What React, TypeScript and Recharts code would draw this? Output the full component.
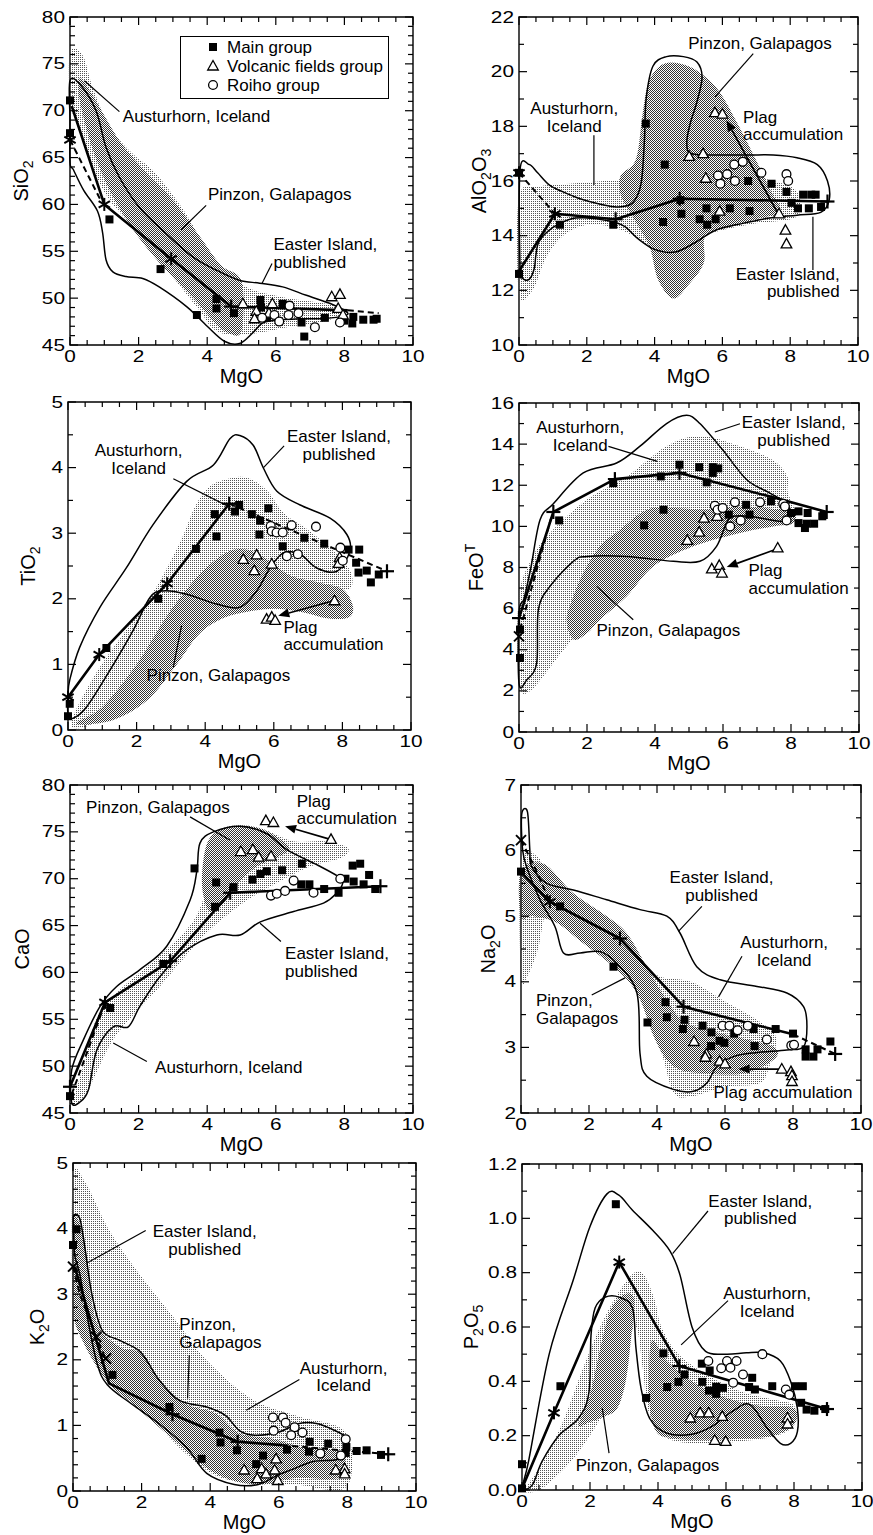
import React from 'react';
import { ScatterChart, Scatter, XAxis, YAxis, ReferenceArea, Legend } from 'recharts';

type P = [number, number];
type Note = { x: number; y: number; lines: string[]; anchor?: 'start' | 'middle' | 'end' };

const FONT = '"Liberation Sans", Arial, Helvetica, sans-serif';

// MgO axis labels shared by all eight panels
const mgoLabels = [0, 2, 4, 6, 8, 10];

// ---------------- SiO2 ----------------
const sio2Main: P[] = [[0, 71.1], [0, 67.6], [1.15, 58.4], [2.64, 53.1], [3.7, 48.2], [4.27, 49.9], [4.27, 48.9], [4.78, 48.4], [5.55, 49.8], [5.57, 49.0], [5.75, 47.9], [6.2, 49.4], [6.75, 47.4], [6.83, 45.9], [7.43, 47.9], [7.99, 47.6], [8.23, 47.3], [8.26, 48.0], [8.55, 47.7], [8.85, 47.7], [8.94, 47.8]];
const sio2Volc: P[] = [[5.04, 49.4], [5.43, 48.6], [5.38, 47.8], [5.8, 48.4], [5.9, 49.4], [7.63, 50.15], [7.87, 50.4], [7.82, 48.9], [7.96, 48.2]];
const sio2Roiho: P[] = [[5.6, 47.9], [5.96, 48.2], [6.1, 47.5], [6.37, 48.2], [6.4, 49.2], [6.66, 48.4], [7.14, 46.9], [7.87, 47.4]];
const sio2Solid: P[] = [[0.05, 70.5], [1.0, 60.0], [2.95, 54.2], [4.7, 49.1], [8.1, 48.7]];
const sio2Dashed: P[][] = [[[0, 66.9], [0.9, 60.4]], [[8.1, 48.7], [9.0, 48.4]]];
const sio2Stars: P[] = [[0, 66.9], [1.0, 60.0], [2.95, 54.2]];
const sio2Plus: P[] = [[4.7, 49.1]];
const sio2Easter: P[] = [[0, 73.2], [0.32, 72.7], [0.76, 70.0], [1.05, 66.1], [1.44, 62.9], [2.02, 59.7], [2.8, 56.9], [3.58, 54.4], [4.26, 53.0], [4.94, 51.9], [5.53, 51.6], [6.2, 51.2], [6.89, 50.3], [7.67, 49.3], [8.1, 48.4], [7.86, 48.0], [7.28, 47.8], [6.7, 47.8], [5.9, 47.6], [5.6, 47.3], [5.3, 46.2], [4.94, 45.15], [4.5, 45.4], [4.0, 47.0], [3.4, 49.1], [2.6, 51.2], [2.12, 52.1], [1.63, 52.3], [1.25, 52.8], [1.05, 54.1], [0.95, 57.0], [0.8, 59.3], [0.4, 61.5], [0.1, 63.7], [0, 64.5], [0, 69]];
const sio2Aust: P[] = [[0, 76.2], [0.37, 75.9], [0.66, 72.5], [1.15, 68.3], [1.83, 65.4], [2.5, 63.3], [3.38, 59.0], [4.16, 54.1], [5.14, 51.2], [6.2, 50.1], [7.47, 49.4], [8.05, 48.6], [7.5, 47.6], [6.5, 47.0], [5.33, 46.2], [4.65, 46.1], [4.16, 46.8], [3.77, 48.7], [2.99, 52.3], [2.02, 56.9], [1.15, 60.5], [0.56, 64.7], [0.13, 69.3], [0, 70.5]];
const sio2Pinz: P[] = [[0.3, 73.5], [0.6, 72.0], [1.0, 69.5], [1.5, 66.5], [2.2, 63.5], [3.0, 60.5], [3.8, 56.5], [4.4, 53.5], [5.0, 51.8], [5.0, 46.5], [4.6, 46.3], [4.2, 47.5], [3.6, 50.0], [2.8, 53.0], [2.0, 56.5], [1.3, 60.5], [0.8, 64.5], [0.45, 68.5], [0.25, 72.0]];
const sio2Leaders: P[] = [[1.44, 69.9], [0.42, 73.2], [3.97, 59.9], [3.24, 57.3], [5.89, 53.7], [5.6, 51.6]];
const sio2Notes: Note[] = [
  { x: 1.54, y: 68.8, lines: ['Austurhorn, Iceland'] },
  { x: 4.02, y: 60.45, lines: ['Pinzon, Galapagos'] },
  { x: 5.93, y: 55.1, lines: ['Easter Island,', 'published'] },
];

// ---------------- AlO2O3 ----------------
const al2Main: P[] = [[0, 12.6], [0, 16.3], [1.21, 14.4], [2.78, 14.4], [3.74, 18.1], [4.3, 16.6], [4.25, 14.5], [4.76, 15.3], [4.79, 14.8], [5.33, 14.6], [5.53, 15.0], [5.55, 14.4], [5.8, 14.6], [6.22, 15.0], [6.76, 16.0], [6.8, 14.9], [7.45, 15.9], [7.89, 15.6], [8.04, 15.2], [8.23, 15.0], [8.38, 15.5], [8.55, 15.0], [8.62, 15.5], [8.75, 15.5], [8.91, 15.05]];
const al2Volc: P[] = [[5.78, 18.5], [6.0, 18.45], [5.02, 16.9], [5.43, 17.0], [5.51, 16.1], [5.92, 14.9], [7.67, 14.8], [7.86, 14.2], [7.89, 13.7]];
const al2Roiho: P[] = [[5.87, 16.2], [5.94, 15.9], [6.14, 16.25], [6.35, 16.6], [6.6, 16.7], [6.37, 16.0], [7.15, 16.3], [7.89, 16.25], [7.94, 16.0]];
const al2Solid: P[] = [[0, 12.7], [1.06, 14.8], [2.85, 14.6], [4.74, 15.35], [9.1, 15.25]];
const al2Dashed: P[][] = [[[0, 16.3], [1.06, 14.8]]];
const al2Stars: P[] = [[0, 16.3], [1.06, 14.8]];
const al2Plus: P[] = [[2.85, 14.6], [4.74, 15.35], [9.1, 15.25]];
const al2Easter: P[] = [[0.03, 16.4], [0.3, 16.6], [0.55, 16.3], [0.9, 15.85], [1.3, 15.6], [1.8, 15.35], [2.4, 15.15], [2.9, 15.05], [3.35, 15.2], [3.6, 15.9], [3.7, 17.5], [3.75, 19.0], [3.95, 20.2], [4.35, 20.55], [4.85, 20.55], [5.25, 20.35], [5.4, 19.8], [5.25, 18.9], [5.05, 18.1], [4.95, 17.4], [5.1, 17.0], [6.0, 16.95], [6.8, 16.95], [7.5, 16.95], [8.2, 16.85], [8.8, 16.6], [9.1, 16.0], [9.15, 15.3], [8.9, 14.85], [8.2, 14.75], [7.4, 14.65], [6.6, 14.45], [5.8, 14.2], [5.2, 13.75], [4.6, 13.4], [4.0, 13.5], [3.5, 13.9], [3.1, 14.35], [2.6, 14.55], [2.0, 14.65], [1.5, 14.6], [1.0, 14.3], [0.6, 13.8], [0.5, 13.3], [0.45, 12.8], [0.3, 12.4], [0.1, 12.45], [0.03, 12.9]];
const al2Aust: P[] = [[0, 15.4], [0.6, 15.8], [1.5, 15.9], [2.5, 16.0], [3.5, 16.1], [4.5, 16.25], [5.5, 16.3], [6.5, 16.2], [7.5, 16.0], [8.2, 15.6], [8.2, 14.7], [7.0, 14.45], [6.0, 14.2], [5.4, 13.9], [5.3, 12.9], [4.8, 12.6], [4.2, 13.2], [3.5, 13.9], [2.8, 14.3], [2.0, 14.4], [1.3, 14.0], [0.8, 13.2], [0.4, 12.0], [0, 11.9]];
const al2Pinz: P[] = [[3.0, 16.2], [3.45, 16.8], [3.65, 18.5], [3.85, 19.7], [4.3, 20.3], [5.0, 20.2], [5.6, 19.7], [6.0, 19.1], [6.4, 18.2], [6.9, 17.0], [7.4, 15.7], [7.7, 14.9], [7.0, 14.6], [6.2, 14.3], [5.5, 14.0], [5.45, 13.0], [5.0, 12.2], [4.55, 11.7], [4.1, 12.4], [3.85, 13.6], [3.4, 14.6], [3.0, 15.5]];
const al2Arrow: P[] = [[7.64, 14.81], [6.12, 18.22]];
const al2Leaders: P[] = [[6.91, 20.66], [5.78, 19.08], [2.21, 17.67], [2.21, 15.85], [8.67, 12.74], [8.67, 14.69]];
const al2Notes: Note[] = [
  { x: 4.99, y: 20.84, lines: ['Pinzon, Galapagos'] },
  { x: 1.63, y: 18.45, lines: ['Austurhorn,', 'Iceland'], anchor: 'middle' },
  { x: 6.61, y: 18.13, lines: ['Plag', 'accumulation'] },
  { x: 9.46, y: 12.38, lines: ['Easter Island,', 'published'], anchor: 'end' },
];

// ---------------- TiO2 ----------------
const tiMain: P[] = [[0, 0.21], [0.05, 0.4], [1.12, 1.25], [2.63, 2.0], [3.73, 2.76], [4.28, 3.29], [4.33, 2.95], [4.87, 3.33], [4.99, 3.43], [5.36, 3.29], [5.6, 3.19], [5.58, 2.98], [5.84, 3.38], [6.26, 2.8], [6.89, 2.93], [7.47, 2.84], [8.18, 2.75], [8.49, 2.75], [8.4, 2.55], [8.47, 2.4], [8.71, 2.43], [8.83, 2.25], [9.06, 2.37]];
const tiVolc: P[] = [[5.11, 2.6], [5.5, 2.67], [5.43, 2.43], [5.94, 2.53], [7.92, 2.63], [7.89, 2.54], [7.77, 1.97], [5.79, 1.69], [5.94, 1.72], [6.04, 1.67]];
const tiRoiho: P[] = [[5.91, 3.11], [5.94, 3.03], [6.08, 3.01], [6.26, 3.01], [6.52, 3.12], [7.23, 3.1], [6.38, 2.65], [6.7, 2.68], [7.94, 2.78], [8.01, 2.58]];
const tiSolid: P[] = [[0, 0.5], [0.91, 1.15], [2.89, 2.23], [4.7, 3.45]];
const tiDashed: P[][] = [[[4.7, 3.45], [9.3, 2.42]]];
const tiStars: P[] = [[0, 0.5], [0.91, 1.15], [2.89, 2.23]];
const tiPlus: P[] = [[4.7, 3.45], [9.3, 2.42]];
const tiEaster: P[] = [[0, 0.53], [0.05, 0.76], [0.34, 1.26], [0.93, 1.87], [1.7, 2.47], [2.48, 3.13], [3.46, 3.79], [4.24, 4.04], [4.72, 4.44], [5.01, 4.49], [5.4, 4.34], [5.7, 3.99], [6.09, 3.64], [6.77, 3.43], [7.64, 3.23], [8.13, 2.98], [8.22, 2.73], [7.84, 2.42], [7.25, 2.47], [6.77, 2.68], [6.28, 2.7], [5.89, 2.47], [5.5, 2.12], [5.01, 1.87], [4.33, 1.92], [3.46, 2.07], [2.78, 2.12], [2.39, 2.02], [1.9, 1.52], [1.22, 0.91], [0.54, 0.35], [0.15, 0.18], [0, 0.25]];
const tiAust: P[] = [[0.1, 0.12], [0.8, 0.85], [1.8, 1.6], [2.6, 2.2], [3.3, 2.9], [3.7, 3.4], [4.1, 3.7], [4.6, 3.82], [5.2, 3.85], [5.8, 3.65], [6.3, 3.3], [7.0, 3.05], [7.8, 2.7], [8.25, 2.4], [8.2, 2.15], [7.5, 2.2], [6.5, 2.15], [5.5, 2.05], [4.5, 1.85], [3.6, 1.55], [2.8, 1.1], [2.0, 0.6], [1.2, 0.25], [0.5, 0.05]];
const tiPinz: P[] = [[0.25, 0.1], [1.0, 0.35], [2.0, 1.0], [2.9, 1.75], [3.8, 2.35], [4.6, 2.7], [5.2, 2.75], [5.8, 2.6], [6.5, 2.35], [7.3, 2.25], [8.0, 2.15], [8.3, 1.9], [8.2, 1.72], [7.6, 1.7], [6.8, 1.8], [6.0, 1.85], [5.2, 1.8], [4.5, 1.7], [3.8, 1.45], [3.1, 0.95], [2.3, 0.45], [1.3, 0.15]];
const tiArrow: P[] = [[7.74, 1.97], [6.13, 1.74]];
const tiLeaders: P[] = [[6.3, 4.33], [5.7, 4.0], [3.07, 3.83], [4.63, 3.42], [3.07, 0.96], [3.31, 1.59]];
const tiNotes: Note[] = [
  { x: 7.9, y: 4.39, lines: ['Easter Island,', 'published'], anchor: 'middle' },
  { x: 2.06, y: 4.17, lines: ['Austurhorn,', 'Iceland'], anchor: 'middle' },
  { x: 6.28, y: 1.48, lines: ['Plag', 'accumulation'] },
  { x: 2.29, y: 0.74, lines: ['Pinzon, Galapagos'] },
];

// ---------------- FeOT ----------------
const feMain: P[] = [[0.03, 3.6], [0.03, 4.98], [1.18, 10.29], [2.77, 12.1], [3.68, 10.05], [4.17, 12.43], [4.25, 10.81], [4.72, 13.0], [5.3, 12.88], [5.52, 12.14], [5.7, 12.88], [5.7, 12.6], [5.86, 12.82], [6.17, 10.57], [6.68, 11.05], [6.78, 10.57], [7.41, 11.22], [8.0, 10.65], [8.22, 10.73], [8.22, 10.16], [8.46, 10.13], [8.49, 10.65], [8.68, 10.13], [8.92, 10.49], [8.41, 9.92]];
const feVolc: P[] = [[4.95, 9.32], [5.3, 9.72], [5.44, 10.4], [5.83, 10.49], [5.67, 7.93], [5.89, 8.1], [5.97, 7.73], [7.61, 8.95]];
const feRoiho: P[] = [[5.76, 11.0], [5.84, 10.81], [5.99, 10.89], [6.35, 11.17], [6.21, 10.0], [6.52, 10.29], [7.09, 11.17], [7.77, 11.1], [7.82, 10.97], [7.87, 10.29]];
const feSolid: P[] = [[0, 5.54], [1.01, 10.7], [2.82, 12.3], [4.72, 12.6], [7.5, 11.4], [9.05, 10.7]];
const feDashed: P[][] = [[[0.03, 4.98], [0.96, 10.5]]];
const fePlus: P[] = [[0, 5.54], [1.01, 10.7], [2.82, 12.3], [4.72, 12.6], [9.05, 10.7]];
const feCross: P[] = [[0, 4.65]];
const feEaster: P[] = [[0, 2.38], [0.23, 2.54], [0.52, 3.35], [0.57, 5.95], [0.91, 7.08], [1.6, 8.3], [1.99, 8.54], [3.17, 8.54], [4.54, 8.3], [5.32, 8.3], [5.81, 9.03], [6.1, 10.16], [6.3, 10.49], [6.79, 10.49], [7.77, 10.24], [7.97, 10.65], [7.87, 11.13], [7.38, 11.62], [6.7, 12.27], [6.0, 13.7], [5.32, 15.0], [4.93, 15.4], [4.34, 15.0], [3.56, 13.9], [2.87, 13.08], [1.89, 12.6], [1.01, 11.1], [0.62, 10.32], [0.35, 8.0], [0.15, 6.5], [0, 5.8]];
const feAust: P[] = [[0, 6.6], [0.4, 8.5], [0.91, 9.68], [1.99, 11.3], [3.17, 12.43], [4.34, 13.9], [5.32, 14.4], [6.5, 13.9], [7.48, 13.2], [7.9, 12.4], [7.9, 11.7], [8.1, 10.8], [8.0, 10.3], [6.5, 10.0], [5.0, 9.4], [3.95, 8.7], [2.77, 6.76], [1.4, 4.17], [0.32, 1.98], [0, 2.6]];
const fePinz: P[] = [[1.6, 4.5], [1.4, 5.46], [1.6, 6.6], [1.89, 7.73], [2.38, 9.03], [2.97, 9.84], [3.76, 10.81], [4.54, 10.89], [5.52, 10.81], [6.5, 10.97], [7.5, 10.85], [8.07, 10.81], [8.07, 10.16], [7.48, 10.0], [6.5, 9.68], [5.13, 9.03], [3.95, 8.05], [3.17, 6.6], [2.38, 5.46], [2.0, 4.8]];
const feArrow: P[] = [[7.58, 8.9], [6.11, 8.02]];
const feLeaders: P[] = [[2.63, 13.89], [4.07, 13.16], [6.5, 14.99], [5.76, 14.59], [3.36, 5.46], [2.28, 7.08]];
const feNotes: Note[] = [
  { x: 1.8, y: 14.54, lines: ['Austurhorn,', 'Iceland'], anchor: 'middle' },
  { x: 8.08, y: 14.78, lines: ['Easter Island,', 'published'], anchor: 'middle' },
  { x: 6.75, y: 7.57, lines: ['Plag', 'accumulation'] },
  { x: 2.28, y: 4.65, lines: ['Pinzon, Galapagos'] },
];

// ---------------- CaO ----------------
const caMain: P[] = [[0, 46.8], [1.17, 56.2], [2.72, 60.9], [3.63, 71.1], [4.23, 67.0], [4.26, 69.6], [4.77, 69.1], [5.32, 69.9], [5.55, 70.5], [5.74, 70.8], [6.18, 70.9], [6.76, 71.6], [6.74, 69.4], [6.98, 69.4], [7.41, 68.9], [7.83, 68.5], [8.03, 70.0], [8.24, 71.4], [8.27, 69.7], [8.46, 71.6], [8.56, 69.4], [8.72, 70.4], [8.9, 68.9]];
const caVolc: P[] = [[5.71, 76.2], [5.93, 76.0], [4.98, 72.9], [5.33, 73.1], [5.5, 72.3], [5.86, 72.4], [7.61, 74.2]];
const caRoiho: P[] = [[5.86, 68.2], [6.03, 68.4], [6.27, 68.7], [6.52, 69.8], [7.1, 68.5], [7.88, 70.0]];
const caSolid: P[] = [[0, 47.8], [1.02, 56.8], [2.92, 61.2], [4.67, 68.5], [9.05, 69.2]];
const caDashed: P[][] = [[[0.05, 47.0], [1.0, 56.5]]];
const caStars: P[] = [[1.02, 56.8]];
const caPlus: P[] = [[0, 47.8], [2.92, 61.2], [4.67, 68.5], [9.05, 69.2]];
const caEaster: P[] = [[0.05, 46.1], [0.3, 46.2], [0.54, 47.5], [0.78, 51.7], [1.26, 54.2], [1.7, 54.2], [2.04, 56.4], [2.63, 59.6], [3.4, 62.4], [4.28, 64.0], [4.96, 64.0], [5.55, 65.4], [6.52, 66.5], [7.39, 67.4], [7.78, 68.5], [7.95, 69.5], [7.88, 70.1], [7.3, 71.3], [6.32, 73.1], [5.74, 74.8], [4.96, 75.6], [4.18, 75.0], [3.79, 73.8], [3.7, 70.9], [3.5, 67.7], [2.82, 62.8], [2.04, 60.3], [1.36, 58.5], [0.88, 56.4], [0.39, 52.8], [0.05, 49.6]];
const caAust: P[] = [[0.1, 46.3], [0.35, 49.5], [0.8, 55.3], [1.5, 58.3], [2.5, 61.4], [3.5, 65.0], [3.9, 68.0], [4.2, 72.5], [4.6, 75.3], [5.5, 75.4], [6.5, 74.0], [7.4, 74.0], [8.1, 73.3], [7.9, 72.2], [7.0, 71.3], [6.0, 69.5], [5.0, 67.3], [4.0, 64.3], [3.2, 61.0], [2.5, 58.0], [1.8, 55.3], [1.2, 52.5], [0.6, 48.0], [0.3, 46.3]];
const caPinz: P[] = [[3.85, 70.5], [4.0, 73.8], [4.4, 75.3], [5.0, 75.7], [5.6, 75.3], [6.1, 74.3], [6.4, 73.2], [6.0, 72.2], [5.4, 71.2], [4.9, 69.5], [4.5, 67.5], [4.1, 66.5], [3.9, 68.0]];
const caArrow: P[] = [[7.59, 74.2], [6.27, 75.6]];
const caLeaders: P[] = [[3.5, 76.6], [4.67, 74.1], [6.15, 63.3], [5.54, 65.25], [2.24, 50.5], [1.26, 52.46]];
const caNotes: Note[] = [
  { x: 0.47, y: 77.05, lines: ['Pinzon, Galapagos'] },
  { x: 6.61, y: 77.7, lines: ['Plag', 'accumulation'] },
  { x: 6.27, y: 61.4, lines: ['Easter Island,', 'published'] },
  { x: 2.48, y: 49.3, lines: ['Austurhorn, Iceland'] },
];

// ---------------- Na2O ----------------
const naMain: P[] = [[0, 5.68], [1.15, 5.15], [2.72, 4.23], [3.72, 3.38], [4.25, 3.69], [4.29, 3.46], [4.81, 3.42], [4.76, 3.28], [5.34, 3.33], [5.6, 3.23], [5.59, 3.02], [5.84, 3.1], [5.98, 3.07], [6.27, 3.21], [6.84, 3.28], [6.87, 3.02], [7.49, 3.28], [8.0, 3.21], [8.37, 2.97], [8.37, 2.86], [8.6, 2.86], [8.72, 2.97], [9.1, 3.09]];
const naVolc: P[] = [[5.09, 3.09], [5.45, 2.9], [5.42, 2.85], [5.84, 2.79], [6.0, 2.75], [7.67, 2.67], [7.94, 2.63], [7.97, 2.57], [7.97, 2.48]];
const naRoiho: P[] = [[5.93, 3.33], [6.13, 3.33], [6.37, 3.26], [6.67, 3.33], [7.23, 3.12], [7.95, 3.03], [8.03, 3.04]];
const naSolid: P[] = [[0, 5.67], [0.85, 5.22], [2.91, 4.66], [4.78, 3.62], [8.0, 3.2]];
const naDashed: P[][] = [[[0, 6.16], [0.4, 5.75], [0.85, 5.22]], [[8.0, 3.2], [9.24, 2.9]]];
const naCross: P[] = [[0, 6.16]];
const naStars: P[] = [[0.85, 5.22]];
const naPlus: P[] = [[2.91, 4.66], [4.78, 3.62], [9.24, 2.9]];
const naEaster: P[] = [[0.02, 6.55], [0.19, 6.59], [0.26, 6.01], [0.31, 5.76], [0.76, 5.5], [1.54, 5.4], [2.52, 5.25], [3.5, 5.1], [4.29, 5.0], [4.68, 4.74], [5.17, 4.23], [5.86, 4.03], [6.94, 3.93], [7.82, 3.83], [8.31, 3.62], [8.41, 3.32], [8.31, 3.01], [7.82, 2.96], [6.9, 2.92], [6.25, 2.86], [5.76, 2.71], [5.47, 2.46], [5.07, 2.33], [4.48, 2.36], [3.7, 2.56], [3.5, 2.91], [3.41, 3.83], [2.82, 4.28], [2.33, 4.46], [1.74, 4.44], [1.25, 4.44], [1.0, 4.84], [0.56, 5.25], [0.2, 5.7], [0.05, 6.0]];
const naAust: P[] = [[0, 5.85], [0.5, 5.9], [0.8, 5.6], [1.5, 5.3], [2.5, 4.9], [3.3, 4.5], [4.0, 4.1], [5.0, 4.0], [6.0, 3.7], [7.0, 3.4], [7.5, 3.15], [7.3, 2.7], [7.0, 2.45], [6.0, 2.4], [5.0, 2.25], [4.5, 2.3], [4.2, 2.8], [3.8, 3.5], [3.2, 4.1], [2.5, 4.5], [1.5, 4.9], [0.8, 5.1], [0.5, 4.5], [0.2, 4.1], [0, 4.1]];
const naPinz: P[] = [[0, 5.67], [0.66, 5.8], [1.54, 5.35], [2.52, 5.0], [3.11, 4.74], [3.7, 4.23], [4.29, 3.72], [4.88, 3.37], [6.25, 3.17], [7.43, 3.01], [7.43, 2.81], [6.5, 2.6], [5.27, 2.61], [4.68, 2.66], [4.29, 2.81], [3.9, 3.17], [3.41, 3.83], [2.72, 4.23], [1.8, 4.6], [1.05, 4.9], [0.36, 5.0], [0, 5.0]];
const naArrow: P[] = [[7.67, 2.67], [6.4, 2.67]];
const naLeaders: P[] = [[5.32, 5.15], [4.63, 4.77], [6.5, 4.39], [5.81, 3.77], [2.08, 3.8], [3.06, 4.06]];
const naNotes: Note[] = [
  { x: 5.9, y: 5.5, lines: ['Easter Island,', 'published'], anchor: 'middle' },
  { x: 7.74, y: 4.51, lines: ['Austurhorn,', 'Iceland'], anchor: 'middle' },
  { x: 0.44, y: 3.63, lines: ['Pinzon,', 'Galapagos'] },
  { x: 5.66, y: 2.23, lines: ['Plag accumulation'] },
];

// ---------------- K2O ----------------
const kMain: P[] = [[0, 3.75], [0.1, 3.99], [1.15, 1.77], [2.81, 1.28], [3.75, 0.49], [4.27, 0.89], [4.3, 0.74], [4.78, 0.62], [5.34, 0.41], [5.54, 0.54], [6.24, 0.63], [6.9, 0.75], [6.88, 0.6], [7.44, 0.72], [7.97, 0.67], [7.95, 0.58], [8.27, 0.61], [8.56, 0.62], [8.98, 0.55]];
const kVolc: P[] = [[4.99, 0.32], [5.37, 0.19], [5.5, 0.34], [5.63, 0.26], [5.92, 0.49], [5.88, 0.32], [5.97, 0.16], [7.66, 0.32], [7.92, 0.34], [7.92, 0.26]];
const kRoiho: P[] = [[5.83, 1.12], [6.12, 1.12], [6.2, 1.04], [6.46, 0.97], [6.36, 0.85], [6.69, 0.89], [5.85, 0.92], [7.21, 0.57], [7.81, 0.54], [7.95, 0.79]];
const kSolid: P[] = [[0.05, 3.42], [1.05, 1.64], [2.9, 1.17], [4.8, 0.75], [6.1, 0.7]];
const kDashed: P[][] = [[[0, 3.42], [0.2, 3.0], [0.68, 2.35], [0.96, 2.0]], [[6.1, 0.7], [9.19, 0.56]]];
const kCross: P[] = [[0, 3.42], [0.68, 2.35], [0.96, 2.02]];
const kPlus: P[] = [[2.9, 1.17], [4.8, 0.75], [9.19, 0.56]];
const kEaster: P[] = [[0.02, 4.2], [0.2, 4.15], [0.35, 3.7], [0.55, 3.0], [0.85, 2.45], [1.35, 2.3], [1.9, 2.15], [2.2, 1.95], [2.5, 1.7], [3.1, 1.38], [3.9, 1.28], [4.45, 1.15], [4.85, 0.92], [5.3, 0.85], [6.0, 0.9], [6.6, 1.03], [7.1, 1.03], [7.6, 0.93], [8.0, 0.8], [8.0, 0.6], [7.7, 0.48], [7.0, 0.45], [6.4, 0.33], [6.0, 0.25], [5.4, 0.1], [4.7, 0.1], [3.9, 0.27], [3.3, 0.67], [2.5, 1.03], [1.7, 1.33], [1.0, 1.62], [0.7, 1.95], [0.4, 2.7], [0.2, 3.3], [0.05, 3.6], [0.02, 4.0]];
const kAust: P[] = [[0, 4.8], [0.37, 4.69], [1.05, 3.98], [1.93, 3.31], [3.0, 2.6], [3.88, 2.0], [5.24, 1.39], [6.61, 1.13], [7.97, 0.88], [7.97, 0.06], [6.5, 0.1], [5.2, 0.12], [4.07, 0.26], [2.9, 0.77], [1.73, 1.54], [0.76, 2.1], [0.18, 2.71], [0, 3.06]];
const kPinz: P[] = [[0, 4.13], [0.27, 3.98], [0.37, 3.68], [0.66, 2.61], [1.35, 2.2], [2.03, 2.1], [2.51, 1.69], [3.29, 1.33], [4.17, 1.18], [4.85, 0.88], [5.8, 0.8], [6.8, 0.65], [7.8, 0.6], [7.8, 0.21], [6.5, 0.2], [5.5, 0.1], [4.66, 0.16], [3.9, 0.35], [3.0, 0.75], [1.73, 1.33], [0.96, 1.69], [0.27, 2.3], [0, 2.81]];
const kLeaders: P[] = [[2.12, 3.97], [0.42, 3.48], [3.39, 2.07], [3.34, 1.41], [6.6, 1.7], [5.05, 1.23]];
const kNotes: Note[] = [
  { x: 3.84, y: 3.87, lines: ['Easter Island,', 'published'], anchor: 'middle' },
  { x: 3.1, y: 2.45, lines: ['Pinzon,', 'Galapagos'] },
  { x: 7.89, y: 1.79, lines: ['Austurhorn,', 'Iceland'], anchor: 'middle' },
];

// ---------------- P2O5 ----------------
const pMain: P[] = [[0, 0.095], [0, 0.006], [1.13, 0.382], [2.76, 1.052], [3.65, 0.339], [4.16, 0.503], [4.27, 0.379], [4.6, 0.398], [4.78, 0.425], [5.29, 0.465], [5.3, 0.398], [5.52, 0.44], [5.5, 0.366], [5.71, 0.38], [5.71, 0.354], [5.91, 0.376], [6.77, 0.413], [6.68, 0.379], [6.85, 0.37], [7.36, 0.382], [8.03, 0.382], [8.26, 0.382], [8.21, 0.321], [8.37, 0.296], [8.6, 0.292], [8.92, 0.298]];
const pVolc: P[] = [[4.95, 0.265], [5.24, 0.284], [5.49, 0.284], [5.89, 0.271], [5.67, 0.183], [5.99, 0.179], [7.81, 0.265], [7.81, 0.243]];
const pRoiho: P[] = [[5.48, 0.475], [5.86, 0.448], [6.03, 0.475], [6.13, 0.45], [6.31, 0.475], [7.07, 0.5], [6.5, 0.425], [6.21, 0.395], [7.76, 0.37], [7.86, 0.351]];
const pSolid: P[] = [[0, 0.006], [0.94, 0.284], [2.86, 0.839], [4.63, 0.456], [8.97, 0.298]];
const pStars: P[] = [[0.94, 0.284], [2.86, 0.839]];
const pPlus: P[] = [[4.63, 0.456], [8.97, 0.298]];
const pEaster: P[] = [[0.02, 0.01], [0.2, 0.11], [0.8, 0.5], [1.5, 0.77], [2.0, 0.97], [2.5, 1.09], [2.85, 1.085], [3.25, 1.03], [3.85, 0.955], [4.35, 0.88], [4.65, 0.79], [5.0, 0.6], [5.4, 0.51], [6.0, 0.5], [6.6, 0.505], [7.1, 0.505], [7.6, 0.475], [7.9, 0.4], [8.1, 0.3], [8.1, 0.215], [7.9, 0.172], [7.6, 0.172], [7.2, 0.23], [6.7, 0.315], [6.2, 0.29], [5.6, 0.235], [5.0, 0.205], [4.25, 0.21], [3.75, 0.265], [3.5, 0.375], [3.35, 0.525], [3.25, 0.67], [2.85, 0.71], [2.45, 0.71], [2.15, 0.67], [2.03, 0.57], [1.97, 0.36], [1.67, 0.265], [1.08, 0.2], [0.59, 0.105], [0.3, 0.018]];
const pAust: P[] = [[0.1, 0.0], [0.6, 0.1], [1.2, 0.25], [1.8, 0.45], [2.3, 0.6], [2.8, 0.72], [3.3, 0.8], [3.6, 0.79], [3.9, 0.7], [4.1, 0.6], [4.6, 0.5], [5.5, 0.42], [6.5, 0.36], [7.5, 0.33], [8.0, 0.31], [8.0, 0.24], [7.5, 0.2], [6.5, 0.18], [5.5, 0.17], [4.5, 0.18], [4.0, 0.22], [3.7, 0.3], [3.55, 0.45], [3.35, 0.6], [3.0, 0.5], [2.6, 0.33], [2.2, 0.24], [1.6, 0.13], [1.0, 0.05], [0.5, 0.0]];
const pPinzA: P[] = [[1.67, 0.24], [2.0, 0.35], [2.3, 0.52], [2.6, 0.66], [3.0, 0.72], [3.3, 0.7], [3.2, 0.55], [3.05, 0.4], [2.8, 0.3], [2.4, 0.27], [2.0, 0.25]];
const pPinzB: P[] = [[3.84, 0.55], [4.3, 0.47], [5.0, 0.4], [6.0, 0.34], [7.0, 0.31], [8.0, 0.3], [8.0, 0.24], [7.39, 0.2], [6.5, 0.19], [5.42, 0.185], [4.43, 0.19], [3.94, 0.216], [3.74, 0.327], [3.74, 0.45]];
const pLeaders: P[] = [[5.47, 1.027], [4.43, 0.87], [6.06, 0.697], [4.68, 0.534], [2.56, 0.136], [2.36, 0.302]];
const pNotes: Note[] = [
  { x: 7.01, y: 1.042, lines: ['Easter Island,', 'published'], anchor: 'middle' },
  { x: 7.21, y: 0.703, lines: ['Austurhorn,', 'Iceland'], anchor: 'middle' },
  { x: 1.58, y: 0.07, lines: ['Pinzon, Galapagos'] },
];

const legendEntries = [
  { label: 'Main group', kind: 'square' },
  { label: 'Volcanic fields group', kind: 'triangle' },
  { label: 'Roiho group', kind: 'circle' },
];

// ---------- helpers ----------
const toXY = (arr: P[]) => arr.map(([x, y]) => ({ x, y }));

const steps = (lo: number, hi: number, step: number) => {
  const n = Math.round((hi - lo) / step);
  const out: number[] = [];
  for (let i = 0; i <= n; i++) out.push(Math.round((lo + i * step) * 1000) / 1000);
  return out;
};

const isIn = (list: number[], v: number) => list.some((m) => Math.abs(m - v) < 1e-6);

// closed Catmull-Rom curve through pixel points
function closedPath(p: { x: number; y: number }[]) {
  const n = p.length;
  let d = `M${p[0].x},${p[0].y}`;
  for (let i = 0; i < n; i++) {
    const p0 = p[(i - 1 + n) % n];
    const p1 = p[i];
    const p2 = p[(i + 1) % n];
    const p3 = p[(i + 2) % n];
    d += `C${p1.x + (p2.x - p0.x) / 6},${p1.y + (p2.y - p0.y) / 6},${p2.x - (p3.x - p1.x) / 6},${p2.y - (p3.y - p1.y) / 6},${p2.x},${p2.y}`;
  }
  return d + 'Z';
}

const blank = () => <g />;

const fillShape = (fill: string) => (props: any) => <path d={closedPath(props.points)} fill={fill} stroke="none" />;
const outlineShape = (props: any) => <path d={closedPath(props.points)} fill="none" stroke="#000" strokeWidth={1.5} />;
const pathShape = (width: number, dash?: string) => (props: any) => (
  <path
    d={'M' + props.points.map((q: any) => `${q.x},${q.y}`).join('L')}
    fill="none"
    stroke="#000"
    strokeWidth={width}
    strokeDasharray={dash}
    strokeLinejoin="round"
  />
);
// every pair of points is one leader line
const segmentShape = (props: any) => {
  const pts = props.points;
  const segs = [];
  for (let i = 0; i + 1 < pts.length; i += 2) {
    segs.push(<line key={i} x1={pts[i].x} y1={pts[i].y} x2={pts[i + 1].x} y2={pts[i + 1].y} stroke="#000" strokeWidth={1.2} />);
  }
  return <g>{segs}</g>;
};
const arrowShape = (props: any) => {
  const [a, b] = props.points;
  const dx = b.x - a.x;
  const dy = b.y - a.y;
  const len = Math.hypot(dx, dy);
  const ux = dx / len;
  const uy = dy / len;
  const hl = 11;
  const hw = 4.5;
  const bx = b.x - ux * hl;
  const by = b.y - uy * hl;
  return (
    <g>
      <line x1={a.x} y1={a.y} x2={bx} y2={by} stroke="#000" strokeWidth={1.7} />
      <polygon points={`${b.x},${b.y} ${bx - uy * hw},${by + ux * hw} ${bx + uy * hw},${by - ux * hw}`} fill="#000" />
    </g>
  );
};

function marker(kind: string, cx: number, cy: number) {
  if (kind === 'square') return <rect x={cx - 4} y={cy - 4} width={8} height={8} fill="#000" />;
  if (kind === 'triangle')
    return <polygon points={`${cx},${cy - 5.5} ${cx + 5.3},${cy + 4} ${cx - 5.3},${cy + 4}`} fill="#fff" stroke="#000" strokeWidth={1.3} />;
  return <circle cx={cx} cy={cy} r={4.4} fill="#fff" stroke="#000" strokeWidth={1.3} />;
}

const squareShape = (p: any) => marker('square', p.cx, p.cy);
const triShape = (p: any) => marker('triangle', p.cx, p.cy);
const circShape = (p: any) => marker('circle', p.cx, p.cy);

const starShape = (p: any) => {
  const r = 6.5;
  return (
    <g stroke="#000" strokeWidth={2}>
      <line x1={p.cx} y1={p.cy - r} x2={p.cx} y2={p.cy + r} />
      <line x1={p.cx - r * 0.87} y1={p.cy - r * 0.5} x2={p.cx + r * 0.87} y2={p.cy + r * 0.5} />
      <line x1={p.cx - r * 0.87} y1={p.cy + r * 0.5} x2={p.cx + r * 0.87} y2={p.cy - r * 0.5} />
    </g>
  );
};
const plusShape = (p: any) => (
  <g stroke="#000" strokeWidth={2.2}>
    <line x1={p.cx - 7} y1={p.cy} x2={p.cx + 7} y2={p.cy} />
    <line x1={p.cx} y1={p.cy - 7} x2={p.cx} y2={p.cy + 7} />
  </g>
);
const crossShape = (p: any) => (
  <g stroke="#000" strokeWidth={2}>
    <line x1={p.cx - 5} y1={p.cy - 5} x2={p.cx + 5} y2={p.cy + 5} />
    <line x1={p.cx - 5} y1={p.cy + 5} x2={p.cx + 5} y2={p.cy - 5} />
  </g>
);

const noteShape = (p: any) => {
  const { cx, cy, payload } = p;
  return (
    <text x={cx} y={cy} textAnchor={payload.anchor || 'start'} fontSize={17} fontFamily={FONT} fill="#000">
      {payload.lines.map((t: string, i: number) => (
        <tspan key={i} x={cx} dy={i === 0 ? 0 : 17.5}>
          {t}
        </tspan>
      ))}
    </text>
  );
};

interface Layers {
  aust: P[][];
  pinz: P[][];
  easter: P[];
  solid: P[];
  dashed: P[][];
  stars?: P[];
  pluses?: P[];
  crosses?: P[];
  arrow?: P[];
  leaders: P[];
  notes: Note[];
  main: P[];
  volc: P[];
  roiho: P[];
}

function buildLayers(s: Layers) {
  const common = { isAnimationActive: false, legendType: 'none' as const, shape: blank, lineType: 'joint' as const };
  const out: React.ReactNode[] = [];
  s.aust.forEach((poly, i) => out.push(<Scatter key={`aust${i}`} data={toXY(poly)} line={fillShape('url(#austDots)')} {...common} />));
  s.pinz.forEach((poly, i) => out.push(<Scatter key={`pinz${i}`} data={toXY(poly)} line={fillShape('url(#pinzDots)')} {...common} />));
  out.push(<Scatter key="easter" data={toXY(s.easter)} line={outlineShape} {...common} />);
  out.push(<Scatter key="leaders" data={toXY(s.leaders)} line={segmentShape} {...common} />);
  s.dashed.forEach((d, i) => out.push(<Scatter key={`dash${i}`} data={toXY(d)} line={pathShape(2, '6 4')} {...common} />));
  out.push(<Scatter key="solid" data={toXY(s.solid)} line={pathShape(2.6)} {...common} />);
  if (s.arrow) out.push(<Scatter key="arrow" data={toXY(s.arrow)} line={arrowShape} {...common} />);
  if (s.stars) out.push(<Scatter key="stars" data={toXY(s.stars)} shape={starShape} isAnimationActive={false} legendType="none" />);
  if (s.pluses) out.push(<Scatter key="plus" data={toXY(s.pluses)} shape={plusShape} isAnimationActive={false} legendType="none" />);
  if (s.crosses) out.push(<Scatter key="cross" data={toXY(s.crosses)} shape={crossShape} isAnimationActive={false} legendType="none" />);
  out.push(<Scatter key="main" name="Main group" data={toXY(s.main)} shape={squareShape} isAnimationActive={false} />);
  out.push(<Scatter key="volc" name="Volcanic fields group" data={toXY(s.volc)} shape={triShape} isAnimationActive={false} />);
  out.push(<Scatter key="roiho" name="Roiho group" data={toXY(s.roiho)} shape={circShape} isAnimationActive={false} />);
  out.push(<Scatter key="notes" data={s.notes} shape={noteShape} isAnimationActive={false} legendType="none" />);
  return out;
}

// plot box inside each chart svg
const PL = 70;
const PT = 10;

interface PanelDef {
  left: number;
  top: number;
  w: number;
  h: number;
  domain: [number, number];
  major: number[];
  step: number;
  digits?: number;
  title: [string, number][];
  titleOffset: number;
  legend?: boolean;
  layers: Layers;
}

function LegendBox() {
  return (
    <svg width={210} height={64} style={{ display: 'block' }}>
      <rect x={0.5} y={0.5} width={208} height={62} fill="#fff" stroke="#000" strokeWidth={1} />
      {legendEntries.map((e, i) => {
        const cy = 11 + i * 19;
        return (
          <g key={e.label}>
            {marker(e.kind, 33, cy)}
            <text x={47} y={cy + 6} fontSize={17} fontFamily={FONT}>
              {e.label}
            </text>
          </g>
        );
      })}
    </svg>
  );
}

function Panel({ def }: { def: PanelDef }) {
  const { left, top, w, h, domain, major, step, digits, title, titleOffset, legend, layers } = def;
  const R = PL + w;
  const B = PT + h;
  const xTicks = steps(0, 10, 0.5);
  const yTicks = steps(domain[0], domain[1], step);

  const xTick = (props: any) => {
    const x = props.x;
    const v = props.payload.value;
    const big = isIn(mgoLabels, v);
    const len = big ? 8 : 5;
    return (
      <g>
        <line x1={x} x2={x} y1={B} y2={B - len} stroke="#000" strokeWidth={1.2} />
        <line x1={x} x2={x} y1={PT} y2={PT + len} stroke="#000" strokeWidth={1.2} />
        {big && (
          <text transform={`translate(${x},${B + 17}) scale(1.3,1)`} textAnchor="middle" fontSize={16} fontFamily={FONT} fill="#000">
            {v}
          </text>
        )}
      </g>
    );
  };

  const yTick = (props: any) => {
    const y = props.y;
    const v = props.payload.value;
    const big = isIn(major, v);
    const len = big ? 8 : 5;
    return (
      <g>
        <line x1={PL} x2={PL + len} y1={y} y2={y} stroke="#000" strokeWidth={1.2} />
        <line x1={R} x2={R - len} y1={y} y2={y} stroke="#000" strokeWidth={1.2} />
        {big && (
          <text transform={`translate(${PL - 5},${y + 5.6}) scale(1.3,1)`} textAnchor="end" fontSize={16} fontFamily={FONT} fill="#000">
            {digits ? v.toFixed(digits) : v}
          </text>
        )}
      </g>
    );
  };

  const yTitle = () => {
    const cx = PL - titleOffset + 7;
    const cy = PT + h / 2;
    let shift = 0;
    return (
      <text transform={`translate(${cx},${cy}) rotate(-90)`} textAnchor="middle" fontSize={20} fontFamily={FONT} fill="#000">
        {title.map(([t, kind], i) => {
          const target = kind === 1 ? 5 : kind === -1 ? -8 : 0;
          const dy = target - shift;
          shift = target;
          return (
            <tspan key={i} dy={dy} fontSize={kind === 0 ? 20 : 14}>
              {t}
            </tspan>
          );
        })}
      </text>
    );
  };

  const xTitle = () => (
    <text x={PL + w / 2} y={B + 38} textAnchor="middle" fontSize={20} fontFamily={FONT} fill="#000">
      MgO
    </text>
  );

  return (
    <div style={{ position: 'absolute', left: left - PL, top: top - PT }}>
      <ScatterChart width={w + PL + 12} height={h + PT + 50} margin={{ top: PT, right: 12, bottom: 5, left: 10 }}>
        <XAxis type="number" dataKey="x" domain={[0, 10]} ticks={xTicks} interval={0} axisLine={false} tickLine={false} height={45} tick={xTick} label={xTitle} />
        <YAxis type="number" dataKey="y" domain={domain} ticks={yTicks} interval={0} axisLine={false} tickLine={false} width={60} tick={yTick} label={yTitle} />
        {buildLayers(layers)}
        <ReferenceArea x1={0} x2={10} y1={domain[0]} y2={domain[1]} fill="none" fillOpacity={0} stroke="#000" strokeWidth={1.4} ifOverflow="visible" />
        {legend && (
          <Legend
            layout="vertical"
            align="center"
            verticalAlign="middle"
            wrapperStyle={{ left: 180, top: 29, width: 210, height: 64 }}
            content={() => <LegendBox />}
          />
        )}
      </ScatterChart>
    </div>
  );
}

const panels: PanelDef[] = [
  {
    left: 70, top: 17, w: 343, h: 328, domain: [45, 80], major: [45, 50, 55, 60, 65, 70, 75, 80], step: 1,
    title: [['SiO', 0], ['2', 1]], titleOffset: 49, legend: true,
    layers: { aust: [sio2Aust], pinz: [sio2Pinz], easter: sio2Easter, solid: sio2Solid, dashed: sio2Dashed, stars: sio2Stars, pluses: sio2Plus, leaders: sio2Leaders, notes: sio2Notes, main: sio2Main, volc: sio2Volc, roiho: sio2Roiho },
  },
  {
    left: 519, top: 17, w: 339, h: 328, domain: [10, 22], major: [10, 12, 14, 16, 18, 20, 22], step: 1,
    title: [['AlO', 0], ['2', 1], ['O', 0], ['3', 1]], titleOffset: 40,
    layers: { aust: [al2Aust], pinz: [al2Pinz], easter: al2Easter, solid: al2Solid, dashed: al2Dashed, stars: al2Stars, pluses: al2Plus, arrow: al2Arrow, leaders: al2Leaders, notes: al2Notes, main: al2Main, volc: al2Volc, roiho: al2Roiho },
  },
  {
    left: 68, top: 402, w: 343, h: 328, domain: [0, 5], major: [0, 1, 2, 3, 4, 5], step: 0.5,
    title: [['TiO', 0], ['2', 1]], titleOffset: 40,
    layers: { aust: [tiAust], pinz: [tiPinz], easter: tiEaster, solid: tiSolid, dashed: tiDashed, stars: tiStars, pluses: tiPlus, arrow: tiArrow, leaders: tiLeaders, notes: tiNotes, main: tiMain, volc: tiVolc, roiho: tiRoiho },
  },
  {
    left: 519, top: 403, w: 340, h: 329, domain: [0, 16], major: [0, 2, 4, 6, 8, 10, 12, 14, 16], step: 1,
    title: [['FeO', 0], ['T', -1]], titleOffset: 43,
    layers: { aust: [feAust], pinz: [fePinz], easter: feEaster, solid: feSolid, dashed: feDashed, pluses: fePlus, crosses: feCross, arrow: feArrow, leaders: feLeaders, notes: feNotes, main: feMain, volc: feVolc, roiho: feRoiho },
  },
  {
    left: 70, top: 785, w: 343, h: 328, domain: [45, 80], major: [45, 50, 55, 60, 65, 70, 75, 80], step: 1,
    title: [['CaO', 0]], titleOffset: 48,
    layers: { aust: [caAust], pinz: [caPinz], easter: caEaster, solid: caSolid, dashed: caDashed, stars: caStars, pluses: caPlus, arrow: caArrow, leaders: caLeaders, notes: caNotes, main: caMain, volc: caVolc, roiho: caRoiho },
  },
  {
    left: 521, top: 785, w: 340, h: 328, domain: [2, 7], major: [2, 3, 4, 5, 6, 7], step: 0.5,
    title: [['Na', 0], ['2', 1], ['O', 0]], titleOffset: 33,
    layers: { aust: [naAust], pinz: [naPinz], easter: naEaster, solid: naSolid, dashed: naDashed, stars: naStars, pluses: naPlus, crosses: naCross, arrow: naArrow, leaders: naLeaders, notes: naNotes, main: naMain, volc: naVolc, roiho: naRoiho },
  },
  {
    left: 73, top: 1163, w: 343, h: 328, domain: [0, 5], major: [0, 1, 2, 3, 4, 5], step: 0.2,
    title: [['K', 0], ['2', 1], ['O', 0]], titleOffset: 36,
    layers: { aust: [kAust], pinz: [kPinz], easter: kEaster, solid: kSolid, dashed: kDashed, pluses: kPlus, crosses: kCross, leaders: kLeaders, notes: kNotes, main: kMain, volc: kVolc, roiho: kRoiho },
  },
  {
    left: 522, top: 1164, w: 340, h: 326, domain: [0, 1.2], major: [0, 0.2, 0.4, 0.6, 0.8, 1.0, 1.2], step: 0.1, digits: 1,
    title: [['P', 0], ['2', 1], ['O', 0], ['5', 1]], titleOffset: 51,
    layers: { aust: [pAust], pinz: [pPinzA, pPinzB], easter: pEaster, solid: pSolid, dashed: [], stars: pStars, pluses: pPlus, leaders: pLeaders, notes: pNotes, main: pMain, volc: pVolc, roiho: pRoiho },
  },
];

export default function App() {
  return (
    <div style={{ position: 'absolute', left: 0, top: 0, width: 873, height: 1535, background: '#fff', fontFamily: FONT }}>
      <svg width={0} height={0} style={{ position: 'absolute' }}>
        <defs>
          <pattern id="austDots" width={2} height={2} patternUnits="userSpaceOnUse">
            <rect x={0} y={0} width={1} height={1} fill="#555" />
          </pattern>
          <pattern id="pinzDots" width={2} height={2} patternUnits="userSpaceOnUse">
            <rect x={0} y={0} width={1} height={1} fill="#333" />
            <rect x={1} y={1} width={1} height={1} fill="#333" />
          </pattern>
        </defs>
      </svg>
      {panels.map((d, i) => (
        <Panel key={i} def={d} />
      ))}
    </div>
  );
}
